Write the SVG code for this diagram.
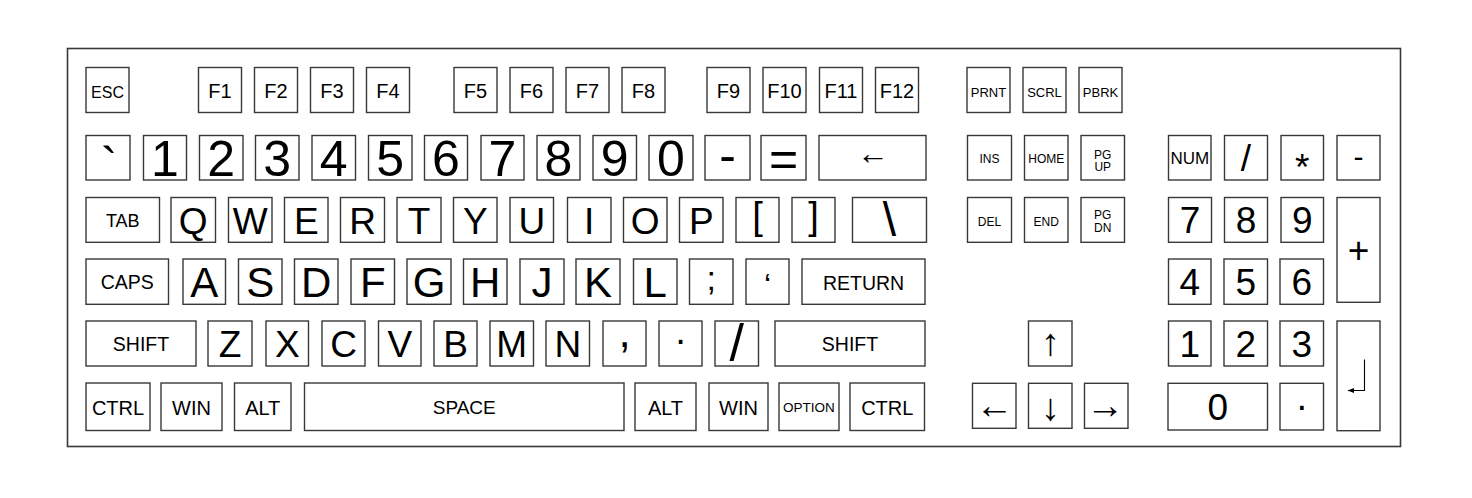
<svg xmlns="http://www.w3.org/2000/svg" width="1472" height="498" viewBox="0 0 1472 498">
<style>
.k{fill:#fff;stroke:#383838;stroke-width:1.4}
.frame{fill:#fff;stroke:#383838;stroke-width:1.6}
text{font-family:"Liberation Sans",Arial,"DejaVu Sans",sans-serif;text-anchor:middle;fill:#000}
.t12{font-size:12px}.t13{font-size:13px}.t135{font-size:13.5px}.t16{font-size:16px}.t17{font-size:17px}
.t18{font-size:18px}.t19{font-size:19px}.t195{font-size:19.5px}.t20{font-size:20px}
.d50{font-size:50px}.l37{font-size:37px}.l42{font-size:42px}.n37{font-size:37px}
.ar{font-size:38px}.bk{font-size:32px}
.sym{fill:none;stroke:#000;stroke-width:1.1}
</style>
<defs>
<marker id="ah" viewBox="0 0 8 6" refX="7.5" refY="3" markerWidth="7" markerHeight="5" markerUnits="userSpaceOnUse" orient="auto">
<path d="M0,0 L8,3 L0,6 Z" fill="#000"/>
</marker>
</defs>
<rect width="1472" height="498" fill="#fff"/>
<rect id="frame" class="frame" x="67.5" y="48.5" width="1333" height="398"/>

<!-- Row 1 -->
<g id="k-esc"><rect class="k" x="86" y="67.5" width="43" height="45"/><text class="t16" x="107.5" y="97.5">ESC</text></g>
<g id="k-f1"><rect class="k" x="198.5" y="67.5" width="43" height="45"/><text class="t20" x="220" y="97.5">F1</text></g>
<g id="k-f2"><rect class="k" x="254.5" y="67.5" width="43" height="45"/><text class="t20" x="276" y="97.5">F2</text></g>
<g id="k-f3"><rect class="k" x="310.5" y="67.5" width="43" height="45"/><text class="t20" x="332" y="97.5">F3</text></g>
<g id="k-f4"><rect class="k" x="366.5" y="67.5" width="43" height="45"/><text class="t20" x="388" y="97.5">F4</text></g>
<g id="k-f5"><rect class="k" x="454" y="67.5" width="43" height="45"/><text class="t20" x="475.5" y="97.5">F5</text></g>
<g id="k-f6"><rect class="k" x="510" y="67.5" width="43" height="45"/><text class="t20" x="531.5" y="97.5">F6</text></g>
<g id="k-f7"><rect class="k" x="566" y="67.5" width="43" height="45"/><text class="t20" x="587.5" y="97.5">F7</text></g>
<g id="k-f8"><rect class="k" x="622" y="67.5" width="43" height="45"/><text class="t20" x="643.5" y="97.5">F8</text></g>
<g id="k-f9"><rect class="k" x="707" y="67.5" width="43" height="45"/><text class="t20" x="728.5" y="97.5">F9</text></g>
<g id="k-f10"><rect class="k" x="763" y="67.5" width="43" height="45"/><text class="t20" x="784.5" y="97.5">F10</text></g>
<g id="k-f11"><rect class="k" x="819.5" y="67.5" width="43" height="45"/><text class="t20" x="841" y="97.5">F11</text></g>
<g id="k-f12"><rect class="k" x="875.5" y="67.5" width="43" height="45"/><text class="t20" x="897" y="97.5">F12</text></g>
<g id="k-prnt"><rect class="k" x="967" y="67.5" width="43" height="45"/><text class="t13" x="988.5" y="96.5">PRNT</text></g>
<g id="k-scrl"><rect class="k" x="1023" y="67.5" width="43" height="45"/><text class="t13" x="1044.5" y="96.5">SCRL</text></g>
<g id="k-pbrk"><rect class="k" x="1079" y="67.5" width="43" height="45"/><text class="t13" x="1100.5" y="96.5">PBRK</text></g>

<!-- Row 2 -->
<g id="k-grave"><rect class="k" x="86" y="135.5" width="44" height="44.5"/><text class="d50" x="109" y="181.5">`</text></g>
<g id="k-1"><rect class="k" x="143.5" y="135.5" width="43" height="44.5"/><text class="d50" x="165" y="175.7">1</text></g>
<g id="k-2"><rect class="k" x="199.5" y="135.5" width="43.5" height="44.5"/><text class="d50" x="221.25" y="175.7">2</text></g>
<g id="k-3"><rect class="k" x="255.5" y="135.5" width="43.5" height="44.5"/><text class="d50" x="277.25" y="175.7">3</text></g>
<g id="k-4"><rect class="k" x="312" y="135.5" width="43.5" height="44.5"/><text class="d50" x="333.75" y="175.7">4</text></g>
<g id="k-5"><rect class="k" x="368.5" y="135.5" width="43.5" height="44.5"/><text class="d50" x="390.25" y="175.7">5</text></g>
<g id="k-6"><rect class="k" x="424.5" y="135.5" width="43" height="44.5"/><text class="d50" x="446" y="175.7">6</text></g>
<g id="k-7"><rect class="k" x="481" y="135.5" width="43" height="44.5"/><text class="d50" x="502.5" y="175.7">7</text></g>
<g id="k-8"><rect class="k" x="537" y="135.5" width="43" height="44.5"/><text class="d50" x="558.5" y="175.7">8</text></g>
<g id="k-9"><rect class="k" x="593" y="135.5" width="43.5" height="44.5"/><text class="d50" x="614.75" y="175.7">9</text></g>
<g id="k-0"><rect class="k" x="649" y="135.5" width="44" height="44.5"/><text class="d50" x="671" y="175.7">0</text></g>
<g id="k-minus"><rect class="k" x="705" y="135.5" width="45" height="44.5"/><text class="d50" x="727.5" y="171.5">-</text></g>
<g id="k-equal"><rect class="k" x="761" y="135.5" width="45" height="44.5"/><text class="d50" x="783.5" y="175.5">=</text></g>
<g id="k-back"><rect class="k" x="819" y="135.5" width="107" height="44.5"/><text class="bk" x="872.8" y="163.5">←</text></g>
<g id="k-ins"><rect class="k" x="967.5" y="135.5" width="44" height="44.5"/><text class="t12" x="989.5" y="163">INS</text></g>
<g id="k-home"><rect class="k" x="1024.5" y="135.5" width="43.5" height="44.5"/><text class="t12" x="1046.25" y="163">HOME</text></g>
<g id="k-pgup"><rect class="k" x="1081" y="135.5" width="43.5" height="44.5"/><text class="t12" x="1102.75" y="158.5">PG</text><text class="t12" x="1102.75" y="171">UP</text></g>
<g id="k-num"><rect class="k" x="1168.5" y="135.5" width="42.5" height="44.5"/><text class="t17" x="1189.75" y="164">NUM</text></g>
<g id="k-ndiv"><rect class="k" x="1224.5" y="135.5" width="43" height="44.5"/><text class="l37" x="1246" y="170.5">/</text></g>
<g id="k-nmul"><rect class="k" x="1281" y="135.5" width="42.5" height="44.5"/><text class="l37" x="1302.25" y="180">*</text></g>
<g id="k-nsub"><rect class="k" x="1337" y="135.5" width="43" height="44.5"/><text style="font-size:30px" x="1358.5" y="166.5">-</text></g>

<!-- Row 3 -->
<g id="k-tab"><rect class="k" x="86" y="197.5" width="73.5" height="44.8"/><text class="t18" x="122.75" y="227">TAB</text></g>
<g id="k-q"><rect class="k" x="171" y="197.5" width="44.5" height="44.8"/><text class="l37" x="193.25" y="234">Q</text></g>
<g id="k-w"><rect class="k" x="228.5" y="197.5" width="43.5" height="44.8"/><text class="l37" x="250.25" y="234">W</text></g>
<g id="k-e"><rect class="k" x="284.5" y="197.5" width="43.5" height="44.8"/><text class="l37" x="306.25" y="234">E</text></g>
<g id="k-r"><rect class="k" x="340.5" y="197.5" width="44" height="44.8"/><text class="l37" x="362.5" y="234">R</text></g>
<g id="k-t"><rect class="k" x="397" y="197.5" width="44" height="44.8"/><text class="l37" x="419" y="234">T</text></g>
<g id="k-y"><rect class="k" x="453.5" y="197.5" width="43.5" height="44.8"/><text class="l37" x="475.25" y="234">Y</text></g>
<g id="k-u"><rect class="k" x="510" y="197.5" width="43.5" height="44.8"/><text class="l37" x="531.75" y="234">U</text></g>
<g id="k-i"><rect class="k" x="567.5" y="197.5" width="43.5" height="44.8"/><text class="l37" x="589.25" y="234">I</text></g>
<g id="k-o"><rect class="k" x="623.5" y="197.5" width="43.5" height="44.8"/><text class="l37" x="645.25" y="234">O</text></g>
<g id="k-p"><rect class="k" x="679.5" y="197.5" width="43.5" height="44.8"/><text class="l37" x="701.25" y="234">P</text></g>
<g id="k-lbr"><rect class="k" x="736" y="197.5" width="43" height="44.8"/><text style="font-size:38px" x="757.5" y="229">[</text></g>
<g id="k-rbr"><rect class="k" x="792" y="197.5" width="43" height="44.8"/><text style="font-size:38px" x="813.5" y="229">]</text></g>
<g id="k-bsl"><rect class="k" x="852.5" y="197.5" width="74" height="44.8"/><text style="font-size:48px" x="889.5" y="236">\</text></g>
<g id="k-del"><rect class="k" x="967.5" y="197.5" width="44" height="44.8"/><text class="t12" x="989.5" y="226">DEL</text></g>
<g id="k-end"><rect class="k" x="1024.5" y="197.5" width="43.5" height="44.8"/><text class="t12" x="1046.25" y="226">END</text></g>
<g id="k-pgdn"><rect class="k" x="1081" y="197.5" width="43.5" height="44.8"/><text class="t12" x="1102.75" y="218.5">PG</text><text class="t12" x="1102.75" y="231.5">DN</text></g>
<g id="k-n7"><rect class="k" x="1168.5" y="197.5" width="43" height="44.8"/><text class="n37" x="1190" y="233.3">7</text></g>
<g id="k-n8"><rect class="k" x="1224.5" y="197.5" width="43" height="44.8"/><text class="n37" x="1246" y="233.3">8</text></g>
<g id="k-n9"><rect class="k" x="1281" y="197.5" width="42.5" height="44.8"/><text class="n37" x="1302.25" y="233.3">9</text></g>
<g id="k-nadd"><rect class="k" x="1337" y="197.5" width="43" height="104.8"/><text class="l37" x="1358.5" y="262.5">+</text></g>

<!-- Row 4 -->
<g id="k-caps"><rect class="k" x="86" y="259" width="82.5" height="45.3"/><text class="t195" x="127.25" y="289">CAPS</text></g>
<g id="k-a"><rect class="k" x="183" y="259" width="42.5" height="45.3"/><text class="l42" x="204.25" y="296.7">A</text></g>
<g id="k-s"><rect class="k" x="238.5" y="259" width="43.5" height="45.3"/><text class="l42" x="260.25" y="296.7">S</text></g>
<g id="k-d"><rect class="k" x="294.5" y="259" width="43.5" height="45.3"/><text class="l42" x="316.25" y="296.7">D</text></g>
<g id="k-f"><rect class="k" x="351" y="259" width="43.5" height="45.3"/><text class="l42" x="372.75" y="296.7">F</text></g>
<g id="k-g"><rect class="k" x="407" y="259" width="44" height="45.3"/><text class="l42" x="429" y="296.7">G</text></g>
<g id="k-h"><rect class="k" x="463.5" y="259" width="43.5" height="45.3"/><text class="l42" x="485.25" y="296.7">H</text></g>
<g id="k-j"><rect class="k" x="520" y="259" width="44" height="45.3"/><text class="l42" x="542" y="296.7">J</text></g>
<g id="k-k"><rect class="k" x="576" y="259" width="44" height="45.3"/><text class="l42" x="598" y="296.7">K</text></g>
<g id="k-l"><rect class="k" x="633.5" y="259" width="43.5" height="45.3"/><text class="l42" x="655.25" y="296.7">L</text></g>
<g id="k-semi"><rect class="k" x="689.5" y="259" width="43.5" height="45.3"/><text style="font-size:34px" x="711.25" y="290">;</text></g>
<g id="k-quote"><rect class="k" x="746" y="259" width="43" height="45.3"/><text style="font-size:32px" x="767.5" y="296">‘</text></g>
<g id="k-return"><rect class="k" x="802" y="259" width="123" height="45.3"/><text class="t195" x="863.5" y="289.5">RETURN</text></g>
<g id="k-n4"><rect class="k" x="1168.5" y="259" width="42.5" height="45.3"/><text class="n37" x="1189.75" y="295">4</text></g>
<g id="k-n5"><rect class="k" x="1224" y="259" width="43.5" height="45.3"/><text class="n37" x="1245.75" y="295">5</text></g>
<g id="k-n6"><rect class="k" x="1280" y="259" width="43.5" height="45.3"/><text class="n37" x="1301.75" y="295">6</text></g>

<!-- Row 5 -->
<g id="k-lshift"><rect class="k" x="86" y="321" width="110" height="45"/><text class="t195" x="141" y="351">SHIFT</text></g>
<g id="k-z"><rect class="k" x="208" y="321" width="44" height="45"/><text class="l37" x="230" y="356.5">Z</text></g>
<g id="k-x"><rect class="k" x="266" y="321" width="42.5" height="45"/><text class="l37" x="287.25" y="356.5">X</text></g>
<g id="k-c"><rect class="k" x="322" y="321" width="43" height="45"/><text class="l37" x="343.5" y="356.5">C</text></g>
<g id="k-v"><rect class="k" x="378.5" y="321" width="42.5" height="45"/><text class="l37" x="399.75" y="356.5">V</text></g>
<g id="k-b"><rect class="k" x="434" y="321" width="43" height="45"/><text class="l37" x="455.5" y="356.5">B</text></g>
<g id="k-m"><rect class="k" x="490" y="321" width="43.5" height="45"/><text class="l37" x="511.75" y="356.5">M</text></g>
<g id="k-n"><rect class="k" x="546" y="321" width="43.5" height="45"/><text class="l37" x="567.75" y="356.5">N</text></g>
<g id="k-comma"><rect class="k" x="603" y="321" width="43" height="45"/><text style="font-size:44px" x="624.5" y="346.5">,</text></g>
<g id="k-period"><rect class="k" x="659" y="321" width="43" height="45"/><text style="font-size:38px" x="680.5" y="352.5">·</text></g>
<g id="k-slash"><rect class="k" x="715" y="321" width="43.5" height="45"/><text style="font-size:52px" x="736.75" y="361">/</text></g>
<g id="k-rshift"><rect class="k" x="775" y="321" width="150" height="45"/><text class="t195" x="850" y="351">SHIFT</text></g>
<g id="k-up"><rect class="k" x="1028.5" y="321" width="43.5" height="45"/><text class="ar" x="1050.25" y="355">↑</text></g>
<g id="k-n1"><rect class="k" x="1168.5" y="321" width="42.5" height="45"/><text class="n37" x="1189.75" y="356.7">1</text></g>
<g id="k-n2"><rect class="k" x="1224" y="321" width="43.5" height="45"/><text class="n37" x="1245.75" y="356.7">2</text></g>
<g id="k-n3"><rect class="k" x="1280" y="321" width="43.5" height="45"/><text class="n37" x="1301.75" y="356.7">3</text></g>
<g id="k-nenter"><rect class="k" x="1337" y="321" width="43" height="109.7"/><path class="sym" d="M1364.5,359.5 V390.5 H1348" marker-end="url(#ah)"/></g>

<!-- Row 6 -->
<g id="k-lctrl"><rect class="k" x="86" y="383" width="64" height="47.5"/><text class="t20" x="118" y="414.5">CTRL</text></g>
<g id="k-lwin"><rect class="k" x="161" y="383" width="61" height="47.5"/><text class="t20" x="191.5" y="414.5">WIN</text></g>
<g id="k-lalt"><rect class="k" x="234.5" y="383" width="56.5" height="47.5"/><text class="t20" x="262.75" y="414.5">ALT</text></g>
<g id="k-space"><rect class="k" x="304.5" y="383" width="319.5" height="47.5"/><text class="t19" x="464.25" y="414">SPACE</text></g>
<g id="k-ralt"><rect class="k" x="635" y="383" width="61" height="47.5"/><text class="t20" x="665.5" y="414.5">ALT</text></g>
<g id="k-rwin"><rect class="k" x="709" y="383" width="59" height="47.5"/><text class="t20" x="738.5" y="414.5">WIN</text></g>
<g id="k-option"><rect class="k" x="779" y="383" width="60" height="47.5"/><text class="t135" x="809" y="411.5">OPTION</text></g>
<g id="k-rctrl"><rect class="k" x="850" y="383" width="74.5" height="47.5"/><text class="t20" x="887.25" y="414.5">CTRL</text></g>
<g id="k-left"><rect class="k" x="972.5" y="383.3" width="43.5" height="45"/><text class="ar" x="994.25" y="418">←</text></g>
<g id="k-down"><rect class="k" x="1028.5" y="383.3" width="43.5" height="45"/><text class="ar" x="1050.25" y="420">↓</text></g>
<g id="k-right"><rect class="k" x="1084.5" y="383.3" width="43.5" height="45"/><text class="ar" x="1105" y="418">→</text></g>
<g id="k-n0"><rect class="k" x="1168" y="383.3" width="99.5" height="46.7"/><text class="n37" x="1217.75" y="420">0</text></g>
<g id="k-ndot"><rect class="k" x="1280" y="383.3" width="43.5" height="46.7"/><text style="font-size:38px" x="1301.75" y="418.5">·</text></g>
</svg>
